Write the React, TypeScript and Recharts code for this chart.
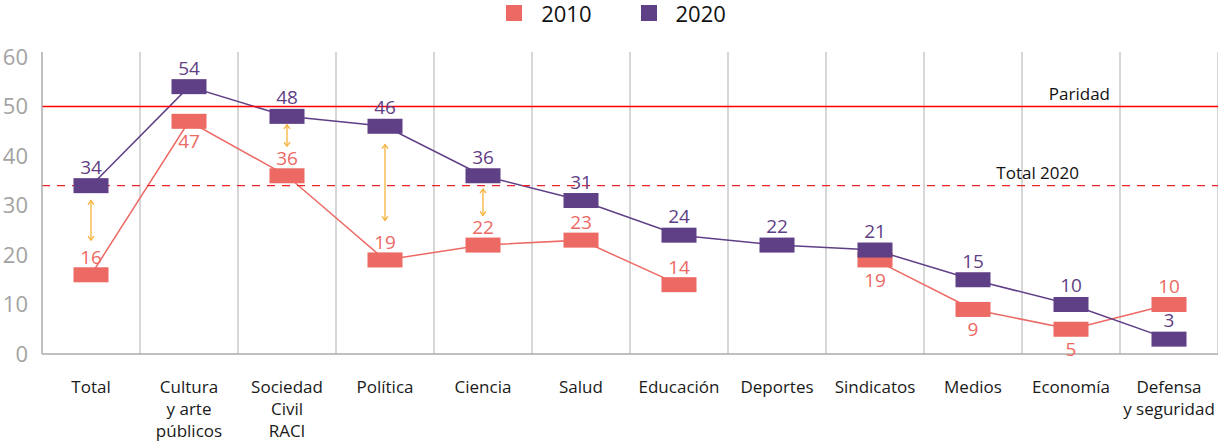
import React from 'react';
import { ComposedChart, Line, Bar, XAxis, YAxis, CartesianGrid, ReferenceLine, Legend } from 'recharts';

const categories = ['Total', 'Cultura\ny arte\npúblicos', 'Sociedad\nCivil\nRACI', 'Política', 'Ciencia', 'Salud', 'Educación', 'Deportes', 'Sindicatos', 'Medios', 'Economía', 'Defensa\ny seguridad'];
const values2010: (number | null)[] = [16, 47, 36, 19, 22, 23, 14, null, 19, 9, 5, 10];
const values2020: number[] = [34, 54, 48, 46, 36, 31, 24, 22, 21, 15, 10, 3];
const gapArrows: ([number, number] | null)[] = [[23, 31], null, [42, 46.3], [27, 42.3], [28, 33.3], null, null, null, null, null, null, null];
const yTicks = [0, 10, 20, 30, 40, 50, 60];
const parity = 50;
const total2020 = 34;

const C2010 = '#EC6964';
const C2020 = '#5F3F86';
const ORANGE = '#F7B23B';
const FONT = "'Open Sans', sans-serif";

const data = categories.map((c, i) => ({ cat: c, v2010: values2010[i], v2020: values2020[i], arrow: gapArrows[i] }));

const rectDot = (color: string) => (props: any) => {
  const { cx, cy, index } = props;
  if (cx == null || cy == null || props.value == null) return <g key={`d${color}${index}`} />;
  return <rect key={`d${color}${index}`} x={cx - 17.5} y={cy - 7.5} width={35} height={15} fill={color} />;
};

const label2020 = (props: any) => {
  const { x, y, value, index } = props;
  if (value == null) return <g key={`l20${index}`} />;
  return (
    <text key={`l20${index}`} x={x} y={y - 12} textAnchor="middle" fill={C2020} fontSize={19} fontFamily={FONT}>{value}</text>
  );
};

const label2010 = (props: any) => {
  const { x, y, value, index } = props;
  if (value == null) return <g key={`l10${index}`} />;
  const other = values2020[index];
  const diff = other - (value as number);
  const below = diff >= 0 && diff <= 7;
  return (
    <text key={`l10${index}`} x={x} y={below ? y + 27 : y - 11} textAnchor="middle" fill={C2010} fontSize={19} fontFamily={FONT}>{value}</text>
  );
};

const ArrowShape = (props: any) => {
  const { x, y, width, height } = props;
  if (height == null || isNaN(height) || height === 0) return <g />;
  const cx = x + width / 2;
  const top = y;
  const bot = y + height;
  return (
    <g stroke={ORANGE} strokeWidth={1.3} fill="none">
      <line x1={cx} y1={top} x2={cx} y2={bot} />
      <polyline points={`${cx - 3},${top + 4} ${cx},${top} ${cx + 3},${top + 4}`} />
      <polyline points={`${cx - 3},${bot - 4} ${cx},${bot} ${cx + 3},${bot - 4}`} />
    </g>
  );
};

const XTick = (props: any) => {
  const { x, y, payload } = props;
  const lines = String(payload.value).split('\n');
  return (
    <text x={x} y={y + 31} textAnchor="middle" fill="#1a1a1a" fontSize={17} fontFamily={FONT}>
      {lines.map((l, i) => (
        <tspan key={i} x={x} dy={i === 0 ? 0 : 22}>{l}</tspan>
      ))}
    </text>
  );
};

const LegendContent = () => (
  <div style={{ height: 30, display: 'flex', justifyContent: 'center', alignItems: 'flex-start', fontFamily: FONT, fontSize: 22, color: '#111' }}>
    <div style={{ display: 'flex', alignItems: 'center', marginLeft: 14 }}>
      <span style={{ width: 16, height: 16, background: C2010, display: 'inline-block', marginRight: 19 }} />
      <span style={{ lineHeight: '26px' }}>2010</span>
    </div>
    <div style={{ display: 'flex', alignItems: 'center', marginLeft: 49 }}>
      <span style={{ width: 16, height: 16, background: C2020, display: 'inline-block', marginRight: 19 }} />
      <span style={{ lineHeight: '26px' }}>2020</span>
    </div>
  </div>
);

const refLabel = (text: string, fromRight: number, dy: number) => (props: any) => {
  const vb = props.viewBox;
  return (
    <text x={vb.x + vb.width - fromRight} y={vb.y + dy} textAnchor="end" fill="#111" fontSize={17} fontFamily={FONT}>{text}</text>
  );
};

export default function App() {
  return (
    <div style={{ position: 'absolute', left: 0, top: 0, width: 1218, height: 443, background: '#fff' }}>
      <ComposedChart width={1218} height={443} data={data} margin={{ top: 22, right: 0, left: 0, bottom: 0 }}>
        <Legend verticalAlign="top" height={30} content={<LegendContent />} wrapperStyle={{ top: 0 }} />
        <CartesianGrid
          horizontal={false}
          stroke="#BDBDBD"
          strokeWidth={1.2}
          verticalCoordinatesGenerator={({ offset }: any) =>
            categories.map((_, i) => offset.left + ((i + 1) * offset.width) / categories.length)
          }
        />
        <XAxis dataKey="cat" interval={0} height={89} tick={<XTick />} tickLine={false} axisLine={{ stroke: '#ABABAB', strokeWidth: 1.5 }} />
        <YAxis domain={[0, 61]} ticks={yTicks} width={42} tickLine={false} tickMargin={8} axisLine={{ stroke: '#ABABAB', strokeWidth: 1.5 }}
          tick={{ fill: '#A3A3A3', fontSize: 22, fontFamily: FONT }} />
        <Bar dataKey="arrow" barSize={10} shape={<ArrowShape />} isAnimationActive={false} />
        <Line dataKey="v2010" stroke={C2010} strokeWidth={1.5} dot={rectDot(C2010)} activeDot={false} label={label2010} connectNulls={false} isAnimationActive={false} />
        <Line dataKey="v2020" stroke={C2020} strokeWidth={1.5} dot={rectDot(C2020)} activeDot={false} label={label2020} isAnimationActive={false} />
        <ReferenceLine y={parity} stroke="#FF0000" strokeWidth={1.5} label={refLabel('Paridad', 108, -6)} />
        <ReferenceLine y={total2020} stroke="#E8262A" strokeWidth={1.2} strokeDasharray="8 7" label={refLabel('Total 2020', 139, -7)} />
      </ComposedChart>
    </div>
  );
}
